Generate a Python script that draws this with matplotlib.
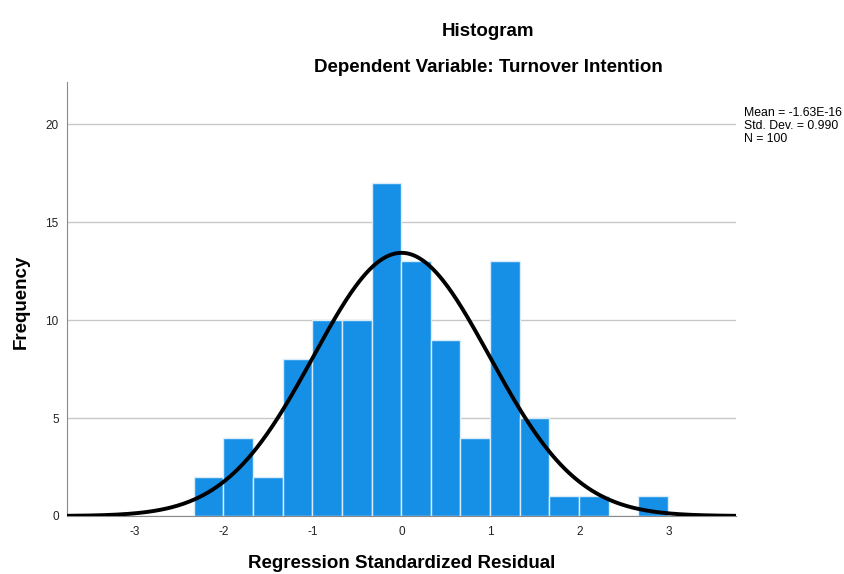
import numpy as np
import matplotlib
matplotlib.use("Agg")
import matplotlib.pyplot as plt

plt.rcParams['font.family'] = ['Liberation Sans', 'DejaVu Sans']

# Data
bin_start = -2.337
bin_width = 0.3333
counts = [2, 4, 2, 8, 10, 10, 17, 13, 9, 4, 13, 5, 1, 1, 0, 1]
mean_val = 0.0
std_val = 0.990
n_val = 100
xticks = [-3, -2, -1, 0, 1, 2, 3]
yticks = [0, 5, 10, 15, 20]

W, H = 845, 574
fig = plt.figure(figsize=(W / 100, H / 100), dpi=100)
ax = fig.add_axes([67 / W, 1 - 516 / H, (736 - 67) / W, (516 - 82) / H])

edges = bin_start + bin_width * np.arange(len(counts) + 1)
lefts = edges[:-1]
ax.bar(lefts, counts, width=bin_width, align='edge', color='#1690e6',
       edgecolor='#d8ecfa', linewidth=1.0, zorder=2)

xs = np.linspace(-3.76, 3.76, 600)
ys = n_val * bin_width / (std_val * np.sqrt(2 * np.pi)) * np.exp(-0.5 * ((xs - mean_val) / std_val) ** 2)
ax.plot(xs, ys, color='black', linewidth=2.8, zorder=3, solid_capstyle='butt')

ax.set_xlim(-3.76, 3.76)
ax.set_ylim(0, 22.15)
ax.set_xticks(xticks)
ax.set_xticklabels([str(t) for t in xticks])
ax.set_yticks(yticks)
ax.set_yticklabels([str(t) for t in yticks])
ax.tick_params(axis='both', labelsize=8.5, length=0, colors='#222222', pad=6)
ax.tick_params(axis='x', pad=7)
ax.grid(axis='y', color='#c8c8c8', linewidth=1.0, zorder=0)
ax.set_axisbelow(True)
for s in ['top', 'right']:
    ax.spines[s].set_visible(False)
ax.spines['left'].set_color('#8a8a8a')
ax.spines['bottom'].set_color('#8a8a8a')

fig.text(402 / W, 1 - 564 / H, 'Regression Standardized Residual', ha='center', va='center',
         fontsize=13.5, fontweight='bold')
fig.text(21 / W, 1 - 302 / H, 'Frequency', ha='center', va='center', rotation=90,
         fontsize=13.5, fontweight='bold')

fig.text(488 / W, 1 - 32 / H, 'Histogram', ha='center', va='center', fontsize=13.5, fontweight='bold')
fig.text(488 / W, 1 - 67 / H, 'Dependent Variable: Turnover Intention', ha='center', va='center',
         fontsize=13.5, fontweight='bold')

fig.text(744 / W, 1 - 113 / H, 'Mean = -1.63E-16', ha='left', va='center', fontsize=8.8)
fig.text(744 / W, 1 - 126 / H, 'Std. Dev. = 0.990', ha='left', va='center', fontsize=8.8)
fig.text(744 / W, 1 - 139 / H, 'N = 100', ha='left', va='center', fontsize=8.8)

fig.savefig('out.png', dpi=100)
